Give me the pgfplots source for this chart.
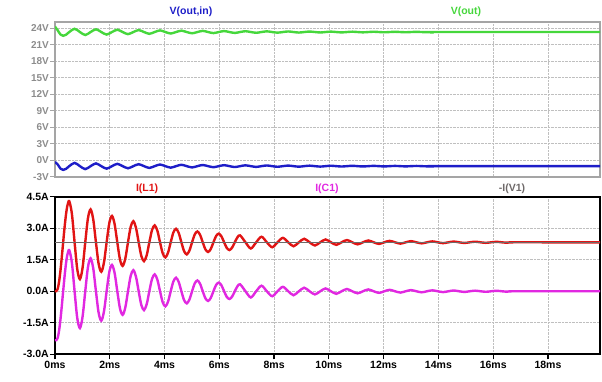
\documentclass[border=0pt]{standalone}
\usepackage{pgfplots}
\usepackage{pgfplotstable}
\pgfplotsset{compat=1.18}
\usepackage{fontspec}
\setmainfont{Liberation Sans}
\definecolor{cgreen}{RGB}{70,215,60}
\definecolor{cblue}{RGB}{30,30,200}
\definecolor{cred}{RGB}{225,20,20}
\definecolor{cmag}{RGB}{225,40,225}
\definecolor{cgray}{RGB}{110,105,105}
\definecolor{framegray}{RGB}{165,165,165}
\definecolor{labgray}{RGB}{140,140,140}

\pgfplotstableread{
t IL IC
0 0.000 -2.330
0.05 0.000 -2.330
0.10 0.118 -2.212
0.15 0.461 -1.869
0.20 0.993 -1.337
0.25 1.650 -0.680
0.30 2.360 0.030
0.35 3.048 0.718
0.40 3.636 1.306
0.45 4.058 1.728
0.52 4.290 1.960
0.6175 3.678 1.348
0.715 2.330 0.000
0.8125 1.055 -1.275
0.91 0.577 -1.753
1.0075 1.124 -1.206
1.105 2.330 0
1.2025 3.470 1.140
1.30 3.898 1.568
1.3975 3.409 1.079
1.495 2.330 0
1.5925 1.310 -1.020
1.69 0.927 -1.403
1.7875 1.365 -0.965
1.885 2.330 0
1.9825 3.243 0.913
2.08 3.585 1.255
2.1775 3.193 0.863
2.275 2.330 0
2.3725 1.514 -0.816
2.47 1.207 -1.123
2.5675 1.558 -0.772
2.665 2.330 0
2.7625 3.060 0.730
2.86 3.334 1.004
2.9575 3.021 0.691
3.055 2.330 0
3.1525 1.677 -0.653
3.25 1.432 -0.898
3.3475 1.712 -0.618
3.445 2.330 0
3.5425 2.914 0.584
3.64 3.134 0.804
3.7375 2.883 0.553
3.835 2.330 0
3.9325 1.807 -0.523
4.03 1.611 -0.719
4.1275 1.836 -0.494
4.225 2.330 0
4.3225 2.798 0.468
4.42 2.973 0.643
4.5175 2.772 0.442
4.615 2.330 0
4.7125 1.912 -0.418
4.81 1.755 -0.575
4.9075 1.934 -0.396
5.005 2.330 0
5.1025 2.704 0.374
5.20 2.845 0.515
5.2975 2.684 0.354
5.395 2.330 0
5.4925 1.995 -0.335
5.59 1.870 -0.460
5.6875 2.013 -0.317
5.785 2.330 0
5.8825 2.630 0.300
5.98 2.742 0.412
6.0775 2.613 0.283
6.175 2.330 0
6.2725 2.062 -0.268
6.37 1.962 -0.368
6.4675 2.077 -0.253
6.565 2.330 0
6.6625 2.570 0.240
6.76 2.660 0.330
6.955 2.330 0
7.15 2.035 -0.295
7.345 2.330 0
7.54 2.594 0.264
7.735 2.330 0
7.93 2.094 -0.236
8.125 2.330 0
8.32 2.541 0.211
8.515 2.330 0
8.71 2.141 -0.189
8.905 2.330 0
9.10 2.499 0.169
9.295 2.330 0
9.49 2.179 -0.151
9.685 2.330 0
9.88 2.465 0.135
10.075 2.330 0
10.27 2.209 -0.121
10.465 2.330 0
10.66 2.438 0.108
10.855 2.330 0
11.05 2.233 -0.097
11.245 2.330 0
11.44 2.417 0.087
11.635 2.330 0
11.83 2.253 -0.077
12.025 2.330 0
12.22 2.399 0.069
12.415 2.330 0
12.61 2.268 -0.062
12.805 2.330 0
13.00 2.385 0.055
13.195 2.330 0
13.39 2.280 -0.050
13.585 2.330 0
13.78 2.374 0.044
13.975 2.330 0
14.17 2.290 -0.040
14.365 2.330 0
14.56 2.366 0.036
14.755 2.330 0
14.95 2.298 -0.032
15.145 2.330 0
15.34 2.358 0.028
15.535 2.330 0
15.73 2.305 -0.025
15.925 2.330 0
16.12 2.353 0.023
16.315 2.330 0
16.51 2.310 -0.020
16.705 2.330 0
18.0 2.330 0
19.9 2.330 0
}\curtab

\pgfplotstableread{
t IV
0 2.33
19.9 2.33
}\vonetab

\pgfplotstableread{
t Vo Voi
0 24.30 -0.33
0.1 23.62 -0.78
0.2 22.87 -1.53
0.3 22.64 -1.76
0.4 22.82 -1.58
0.52 23.32 -1.08
0.715 23.914 -0.486
0.91 23.32 -1.08
1.105 22.776 -1.624
1.30 23.32 -1.08
1.495 23.819 -0.581
1.69 23.32 -1.08
1.885 22.862 -1.538
2.08 23.32 -1.08
2.275 23.740 -0.660
2.47 23.32 -1.08
2.665 22.935 -1.465
2.86 23.32 -1.08
3.055 23.673 -0.727
3.25 23.32 -1.08
3.445 22.996 -1.404
3.64 23.32 -1.08
3.835 23.617 -0.783
4.03 23.32 -1.08
4.225 23.048 -1.352
4.42 23.32 -1.08
4.615 23.570 -0.830
4.81 23.32 -1.08
5.005 23.091 -1.309
5.20 23.32 -1.08
5.395 23.530 -0.870
5.59 23.32 -1.08
5.785 23.127 -1.273
5.98 23.32 -1.08
6.175 23.496 -0.904
6.37 23.32 -1.08
6.565 23.158 -1.242
6.76 23.32 -1.08
6.955 23.468 -0.932
7.15 23.32 -1.08
7.345 23.184 -1.216
7.54 23.32 -1.08
7.735 23.445 -0.955
7.93 23.32 -1.08
8.125 23.206 -1.194
8.32 23.32 -1.08
8.515 23.425 -0.975
8.71 23.32 -1.08
8.905 23.224 -1.176
9.10 23.32 -1.08
9.295 23.408 -0.992
9.49 23.32 -1.08
9.685 23.239 -1.161
9.88 23.32 -1.08
10.075 23.394 -1.006
10.27 23.32 -1.08
10.465 23.252 -1.148
10.66 23.32 -1.08
10.855 23.382 -1.018
11.05 23.32 -1.08
11.245 23.263 -1.137
11.44 23.32 -1.08
11.635 23.372 -1.028
11.83 23.32 -1.08
12.025 23.272 -1.128
12.22 23.32 -1.08
12.415 23.364 -1.036
12.61 23.32 -1.08
12.805 23.279 -1.121
13.00 23.32 -1.08
13.195 23.357 -1.043
13.39 23.32 -1.08
13.585 23.286 -1.114
13.78 23.32 -1.08
16.0 23.32 -1.08
19.9 23.32 -1.08
}\volttab

\begin{document}
\begin{tikzpicture}
\path[use as bounding box] (0,0) rectangle (602pt,381pt);
% ---------- top pane ----------
\begin{axis}[
  at={(55pt,204.3pt)}, anchor=south west,
  scale only axis, width=545pt, height=155pt,
  xmin=0, xmax=19.9, ymin=-3, ymax=25.2,
  xtick={0,2,...,18}, xticklabels={},
  ytick={-3,0,3,6,9,12,15,18,21,24},
  yticklabels={-3V,0V,3V,6V,9V,12V,15V,18V,21V,24V},
  xtick style={draw=none},
  ytick pos=left, tick align=outside,
  major tick length=5pt,
  ytick style={framegray, line width=1pt},
  yticklabel style={font=\fontsize{10}{11}\selectfont\bfseries, text=labgray, inner sep=1pt},
  axis line style={framegray, line width=1.8pt},
  grid=major,
  grid style={gray!50, densely dotted, line width=0.7pt},
  clip mode=individual,
]
\addplot[cgreen, line width=2.4pt, smooth] table[x=t, y=Vo] {\volttab};
\addplot[cblue, line width=2.4pt, smooth] table[x=t, y=Voi] {\volttab};
\node[font=\fontsize{10.5}{12}\selectfont\bfseries, text=cblue] at (rel axis cs:0.2495,1.063) {V(out,in)};
\node[font=\fontsize{10.5}{12}\selectfont\bfseries, text=cgreen] at (rel axis cs:0.754,1.063) {V(out)};
\end{axis}
% ---------- bottom pane ----------
\begin{axis}[
  at={(55pt,26.7pt)}, anchor=south west,
  scale only axis, width=545pt, height=157.6pt,
  xmin=0, xmax=19.9, ymin=-3, ymax=4.5,
  xtick={0,2,...,18},
  xticklabels={0ms,2ms,4ms,6ms,8ms,10ms,12ms,14ms,16ms,18ms},
  ytick={-3,-1.5,0,1.5,3,4.5},
  yticklabels={-3.0A,-1.5A,0.0A,1.5A,3.0A,4.5A},
  xtick pos=left, ytick pos=left, tick align=outside,
  major tick length=5pt,
  tick style={black, line width=1.2pt},
  ticklabel style={font=\fontsize{10.5}{12}\selectfont\bfseries, text=black},
  yticklabel style={inner sep=1pt},
  xticklabel style={inner sep=2pt},
  axis line style={black, line width=1.8pt},
  grid=major,
  grid style={gray!50, densely dotted, line width=0.7pt},
  clip mode=individual,
]
\addplot[cred, line width=2.4pt, smooth] table[x=t, y=IL] {\curtab};
\addplot[cmag, line width=2.4pt, smooth] table[x=t, y=IC] {\curtab};
\addplot[cgray, line width=1.2pt] table[x=t, y=IV] {\vonetab};
\node[font=\fontsize{10.5}{12}\selectfont\bfseries, text=cred] at (rel axis cs:0.169,1.053) {I(L1)};
\node[font=\fontsize{10.5}{12}\selectfont\bfseries, text=cmag] at (rel axis cs:0.499,1.053) {I(C1)};
\node[font=\fontsize{10.5}{12}\selectfont\bfseries, text=cgray] at (rel axis cs:0.8385,1.053) {-I(V1)};
\end{axis}
\end{tikzpicture}
\end{document}
